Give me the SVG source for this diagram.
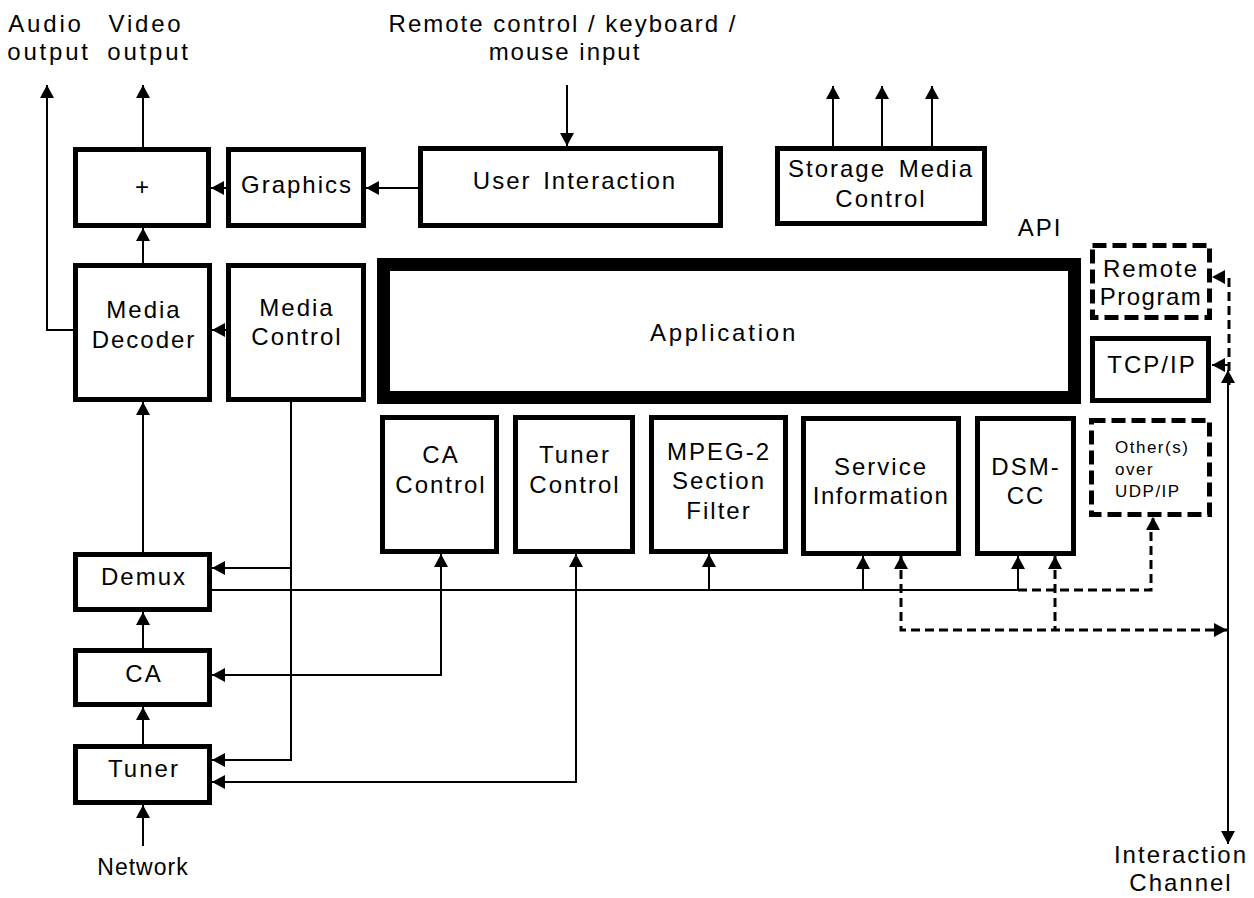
<svg xmlns="http://www.w3.org/2000/svg" width="1254" height="898" viewBox="0 0 1254 898">
<style>
text{font-family:"Liberation Sans",Arial,sans-serif;font-size:24px;fill:#000;letter-spacing:2px;text-anchor:middle}
.box{fill:#fff;stroke:#000;stroke-width:5}
.dbox{fill:#fff;stroke:#000;stroke-width:5;stroke-dasharray:14 6}
.app{fill:#fff;stroke:#000;stroke-width:13}
.ln{fill:none;stroke:#000;stroke-width:2}
.dl{fill:none;stroke:#000;stroke-width:3;stroke-dasharray:9 5}
.small{font-size:17px;letter-spacing:1.5px;text-anchor:start}
</style>
<defs>
<marker id="ah" viewBox="0 0 13 14" markerWidth="13" markerHeight="14" refX="13" refY="7" orient="auto-start-reverse" markerUnits="userSpaceOnUse">
<path d="M0,0 L13,7 L0,14 z" fill="#000"/>
</marker>
</defs>

<g id="labels">
<text x="46" y="32" style="letter-spacing:2.8px">Audio</text>
<text x="146" y="32" style="letter-spacing:2.8px">Video</text>
<text x="49" y="60" style="letter-spacing:2.8px">output</text>
<text x="149" y="60" style="letter-spacing:2.8px">output</text>
<text x="563" y="32">Remote control / keyboard /</text>
<text x="565" y="60">mouse input</text>
<text x="1040" y="236">API</text>
<text x="143" y="875" style="letter-spacing:1px;font-size:23px">Network</text>
<text x="1181" y="863">Interaction</text>
<text x="1181" y="891">Channel</text>
</g>

<g id="plus"><rect class="box" x="75.5" y="149.5" width="133" height="76"/><text x="143" y="195">+</text></g>
<g id="graphics"><rect class="box" x="228.5" y="149.5" width="135" height="76"/><text x="297" y="193">Graphics</text></g>
<g id="user-interaction"><rect class="box" x="420.5" y="148.5" width="300" height="77"/><text x="575" y="189" style="word-spacing:3px">User Interaction</text></g>
<g id="storage"><rect class="box" x="777.5" y="148.5" width="207" height="75"/><text x="881" y="177" style="word-spacing:4px">Storage Media</text><text x="881" y="207">Control</text></g>
<g id="media-decoder"><rect class="box" x="75.5" y="265.5" width="134" height="134"/><text x="144" y="318">Media</text><text x="144" y="348">Decoder</text></g>
<g id="media-control"><rect class="box" x="228.5" y="265.5" width="135" height="134"/><text x="297" y="316">Media</text><text x="297" y="345">Control</text></g>
<g id="application"><rect class="app" x="383.5" y="264.5" width="691" height="133"/><text x="724" y="341" style="letter-spacing:2.8px">Application</text></g>
<g id="remote-program"><rect class="dbox" x="1092.5" y="245.5" width="117" height="72"/><text x="1151" y="277">Remote</text><text x="1151" y="305" style="letter-spacing:1.5px">Program</text></g>
<g id="tcpip"><rect class="box" x="1092.5" y="338.5" width="116" height="62"/><text x="1152" y="373">TCP/IP</text></g>
<g id="ca-control"><rect class="box" x="382.5" y="417.5" width="114" height="134"/><text x="441" y="463">CA</text><text x="441" y="493">Control</text></g>
<g id="tuner-control"><rect class="box" x="515.5" y="417.5" width="117" height="134"/><text x="575" y="463">Tuner</text><text x="575" y="493">Control</text></g>
<g id="mpeg2"><rect class="box" x="651.5" y="417.5" width="134" height="134"/><text x="719" y="460">MPEG-2</text><text x="719" y="489">Section</text><text x="719" y="519">Filter</text></g>
<g id="service-information"><rect class="box" x="803.5" y="418.5" width="155" height="135"/><text x="881" y="475">Service</text><text x="881" y="504" style="letter-spacing:1.5px">Information</text></g>
<g id="dsmcc"><rect class="box" x="977.5" y="418.5" width="96" height="135"/><text x="1026" y="475">DSM-</text><text x="1026" y="504">CC</text></g>
<g id="others-udp"><rect class="dbox" x="1091.5" y="420.5" width="118" height="94"/><text class="small" x="1115" y="453">Other(s)</text><text class="small" x="1115" y="475">over</text><text class="small" x="1115" y="497">UDP/IP</text></g>
<g id="demux"><rect class="box" x="75.5" y="554.5" width="134" height="55"/><text x="144" y="585">Demux</text></g>
<g id="ca"><rect class="box" x="75.5" y="650.5" width="134" height="54"/><text x="144" y="682">CA</text></g>
<g id="tuner"><rect class="box" x="75.5" y="746.5" width="134" height="56"/><text x="144" y="777">Tuner</text></g>

<g id="connectors">
<path class="ln" d="M73,330 H47 V85" marker-end="url(#ah)"/>
<path class="ln" d="M143,147 V85" marker-end="url(#ah)"/>
<path class="ln" d="M143,263 V228" marker-end="url(#ah)"/>
<path class="ln" d="M226,188 H211" marker-end="url(#ah)"/>
<path class="ln" d="M418,188 H366" marker-end="url(#ah)"/>
<path class="ln" d="M567,85 V146" marker-end="url(#ah)"/>
<path class="ln" d="M833,146 V86" marker-end="url(#ah)"/>
<path class="ln" d="M882,146 V86" marker-end="url(#ah)"/>
<path class="ln" d="M932,146 V86" marker-end="url(#ah)"/>
<path class="ln" d="M226,330 H212" marker-end="url(#ah)"/>
<path class="ln" d="M143,552 V402" marker-end="url(#ah)"/>
<path class="ln" d="M143,648 V612" marker-end="url(#ah)"/>
<path class="ln" d="M143,744 V707" marker-end="url(#ah)"/>
<path class="ln" d="M143,846 V805" marker-end="url(#ah)"/>
<path class="ln" d="M291,402 V760 H212" marker-end="url(#ah)"/>
<path class="ln" d="M291,568 H212" marker-end="url(#ah)"/>
<path class="ln" d="M212,590 H1018"/>
<path class="ln" d="M709,590 V554" marker-end="url(#ah)"/>
<path class="ln" d="M863,590 V556" marker-end="url(#ah)"/>
<path class="ln" d="M1018,590 V556" marker-end="url(#ah)"/>
<path class="ln" d="M441,554 V675 H212" marker-start="url(#ah)" marker-end="url(#ah)"/>
<path class="ln" d="M576,554 V782 H212" marker-start="url(#ah)" marker-end="url(#ah)"/>
<path class="dl" d="M1018,590 H1151 V530 L1153,524 V517" marker-end="url(#ah)"/>
<path class="dl" d="M901,556 V630 H1227" marker-start="url(#ah)" marker-end="url(#ah)"/>
<path class="dl" d="M1055,556 V630" marker-start="url(#ah)"/>
<path class="ln" d="M1228,370 V844" marker-start="url(#ah)" marker-end="url(#ah)"/>
<path class="dl" d="M1229,385 V277 H1212" marker-end="url(#ah)"/>
<path class="ln" d="M1228,365 H1212" marker-end="url(#ah)"/>
</g>
</svg>
